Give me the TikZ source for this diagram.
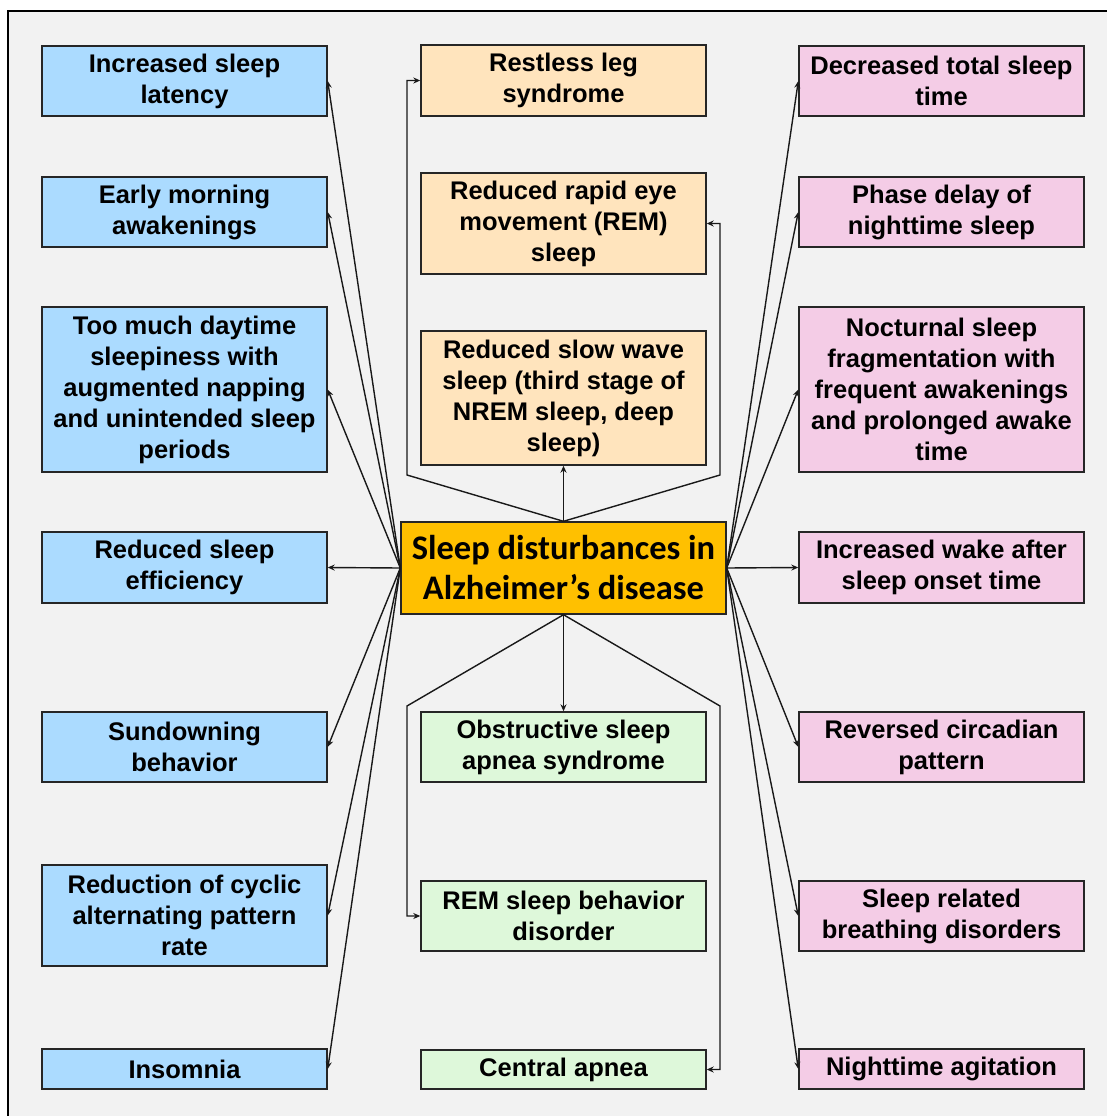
\documentclass[tikz,border=0pt]{standalone}
\usepackage{fontspec}
\setmainfont{Liberation Sans}
\newfontfamily\calib{Carlito}
\usetikzlibrary{arrows.meta,calc}
\definecolor{bgc}{HTML}{F2F2F2}
\definecolor{bluec}{HTML}{ABDBFF}
\definecolor{orc}{HTML}{FFE4BD}
\definecolor{pinkc}{HTML}{F4CCE6}
\definecolor{greenc}{HTML}{DEF8DA}
\definecolor{goldc}{HTML}{FFC000}
\begin{document}
\begin{tikzpicture}[x=1pt,y=-1pt,
  box/.style={draw=black!85, line width=1.4pt, minimum width=285pt, inner sep=0pt, align=center,
    font=\bfseries\fontsize{25.5}{31}\selectfont},
  lbox/.style={box, fill=bluec},
  mbox/.style={box, fill=orc},
  gbox/.style={box, fill=greenc},
  rbox/.style={box, fill=pinkc},
  conn/.style={line width=1.4pt, draw=black!90, -{Stealth[length=7pt,width=6pt]}}
]
\useasboundingbox (0,0) rectangle (1107,1116);
\draw[fill=bgc, draw=black, line width=1.8pt] (8,11) rectangle (1125,1130);

% center
\node[draw=black!85, line width=1.4pt, fill=goldc, minimum width=325pt, minimum height=92pt, inner sep=0pt,
  align=center, font=\calib\bfseries\fontsize{34.5}{40}\selectfont] (C) at (563.5,568)
  {Sleep disturbances in\\Alzheimer’s disease};

% left column
\node[lbox, minimum height=70pt] (L1) at (184.5,81) {Increased sleep\\latency};
\node[lbox, minimum height=70pt] (L2) at (184.5,212) {Early morning\\awakenings};
\node[lbox, minimum height=165pt] (L3) at (184.5,389.5) {Too much daytime\\sleepiness with\\augmented napping\\and unintended sleep\\periods};
\node[lbox, minimum height=71pt] (L4) at (184.5,567.5) {Reduced sleep\\efficiency};
\node[lbox, minimum height=70pt] (L5) at (184.5,747) {Sundowning\\behavior};
\node[lbox, minimum height=101pt] (L6) at (184.5,915.5) {Reduction of cyclic\\alternating pattern\\rate};
\node[lbox, minimum height=40pt] (L7) at (184.5,1069) {Insomnia};

% middle column
\node[mbox, minimum height=71pt] (M1) at (563.5,80.5) {Restless leg\\syndrome};
\node[mbox, minimum height=101pt] (M2) at (563.5,223.5) {Reduced rapid eye\\movement (REM)\\sleep};
\node[mbox, minimum height=134pt] (M3) at (563.5,398) {Reduced slow wave\\sleep (third stage of\\NREM sleep, deep\\sleep)};
\node[gbox, minimum height=70pt] (M4) at (563.5,747) {Obstructive sleep\\apnea syndrome};
\node[gbox, minimum height=70pt] (M5) at (563.5,916) {REM sleep behavior\\disorder};
\node[gbox, minimum height=39pt] (M6) at (563.5,1069.5) {Central apnea};

% right column
\node[rbox, minimum height=70pt] (R1) at (941.5,81) {Decreased total sleep\\time};
\node[rbox, minimum height=70pt] (R2) at (941.5,212) {Phase delay of\\nighttime sleep};
\node[rbox, minimum height=165pt] (R3) at (941.5,389.5) {Nocturnal sleep\\fragmentation with\\frequent awakenings\\and prolonged awake\\time};
\node[rbox, minimum height=71pt] (R4) at (941.5,567.5) {Increased wake after\\sleep onset time};
\node[rbox, minimum height=70pt] (R5) at (941.5,747) {Reversed circadian\\pattern};
\node[rbox, minimum height=70pt] (R6) at (941.5,916) {Sleep related\\breathing disorders};
\node[rbox, minimum height=40pt] (R7) at (941.5,1069) {Nighttime agitation};

% bend points
\coordinate (tl) at (407,475);
\coordinate (tr) at (720,475);
\coordinate (bl) at (407,706);
\coordinate (br) at (720,706);

% left connectors
\foreach \n in {L1,L2,L3,L4,L5,L6,L7} { \draw[conn] (C.west) -- (\n.east); }
% right connectors
\foreach \n in {R1,R2,R3,R4,R5,R6,R7} { \draw[conn] (C.east) -- (\n.west); }

% middle connectors
\draw[conn] (C.north) -- (M3.south);
\draw[conn] (C.north) -- (tl) |- (M1.west);
\draw[conn] (C.north) -- (tr) |- (M2.east);
\draw[conn] (C.south) -- (M4.north);
\draw[conn] (C.south) -- (bl) |- (M5.west);
\draw[conn] (C.south) -- (br) |- (M6.east);
\end{tikzpicture}
\end{document}
